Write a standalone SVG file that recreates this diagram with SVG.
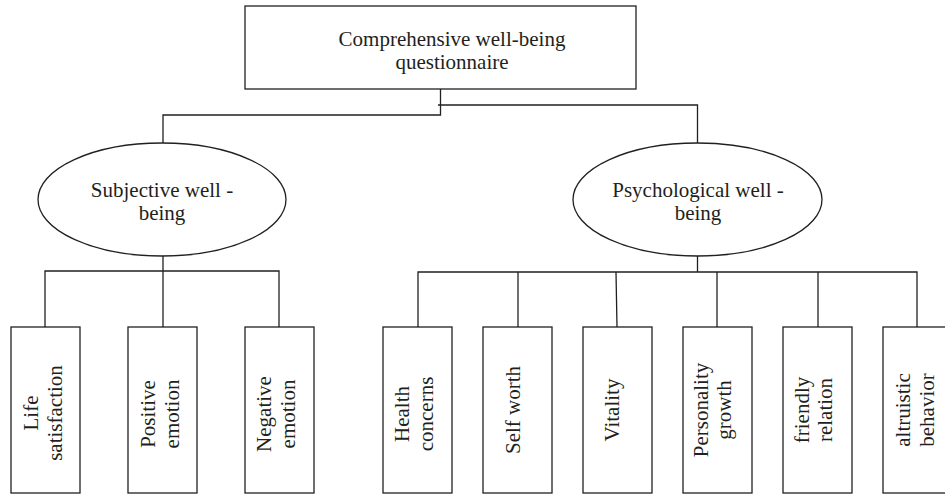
<svg xmlns="http://www.w3.org/2000/svg" width="945" height="494" viewBox="0 0 945 494">
<style>
.b{fill:#fff;stroke:#231f20;stroke-width:1.3}
.c{fill:none;stroke:#231f20;stroke-width:1.3}
text{font-family:"Liberation Serif","Times New Roman",serif;font-size:21px;fill:#231f20;text-anchor:middle}
</style>
<rect width="945" height="494" fill="#fff"/>
<g id="connectors" class="c">
<polyline points="440.5,89 440.5,115 163,115 163,143"/>
<polyline points="438,105 697.5,105 697.5,143"/>
<polyline points="163,256 163,271"/>
<polyline points="45,327 45,271 279,271 279,327"/>
<line x1="163" y1="271" x2="163" y2="327"/>
<polyline points="697.5,256 697.5,272"/>
<polyline points="418,327 418,272 917,272 917,327"/>
<line x1="518" y1="272" x2="518" y2="327"/>
<line x1="616" y1="272" x2="617" y2="327"/>
<line x1="717" y1="272" x2="717" y2="327"/>
<line x1="818" y1="272" x2="818" y2="327"/>
</g>
<g id="root">
<rect class="b" x="245" y="6" width="391" height="83"/>
<text x="452" y="46">Comprehensive well-being</text>
<text x="452" y="69">questionnaire</text>
</g>
<g id="subjective">
<ellipse class="b" cx="162" cy="199.5" rx="124" ry="56.5"/>
<text x="162" y="197">Subjective well -</text>
<text x="162" y="220">being</text>
</g>
<g id="psychological">
<ellipse class="b" cx="697.5" cy="199.5" rx="124.5" ry="56.5"/>
<text x="698" y="197">Psychological well -</text>
<text x="698" y="220">being</text>
</g>
<g id="life">
<rect class="b" x="11" y="327" width="69" height="166"/>
<text transform="translate(38,413) rotate(-90)">Life</text>
<text transform="translate(61.5,413) rotate(-90)">satisfaction</text>
</g>
<g id="positive">
<rect class="b" x="128" y="327" width="69" height="166"/>
<text transform="translate(155,414) rotate(-90)">Positive</text>
<text transform="translate(179,414) rotate(-90)">emotion</text>
</g>
<g id="negative">
<rect class="b" x="245" y="327" width="69" height="166"/>
<text transform="translate(271,414) rotate(-90)">Negative</text>
<text transform="translate(295,414) rotate(-90)">emotion</text>
</g>
<g id="health">
<rect class="b" x="383" y="327" width="69" height="166"/>
<text transform="translate(409,414) rotate(-90)">Health</text>
<text transform="translate(433,414) rotate(-90)">concerns</text>
</g>
<g id="selfworth">
<rect class="b" x="483" y="327" width="69" height="166"/>
<text transform="translate(520,410) rotate(-90)">Self worth</text>
</g>
<g id="vitality">
<rect class="b" x="583" y="327" width="69" height="166"/>
<text transform="translate(619,410) rotate(-90)">Vitality</text>
</g>
<g id="personality">
<rect class="b" x="683" y="327" width="69" height="166"/>
<text transform="translate(708,410) rotate(-90)">Personality</text>
<text transform="translate(731,410) rotate(-90)">growth</text>
</g>
<g id="friendly">
<rect class="b" x="783" y="327" width="69" height="166"/>
<text transform="translate(809,410) rotate(-90)">friendly</text>
<text transform="translate(832,410) rotate(-90)">relation</text>
</g>
<g id="altruistic">
<rect class="b" x="883" y="327" width="69" height="166"/>
<text transform="translate(910,410) rotate(-90)">altruistic</text>
<text transform="translate(934,410) rotate(-90)">behavior</text>
</g>
</svg>
